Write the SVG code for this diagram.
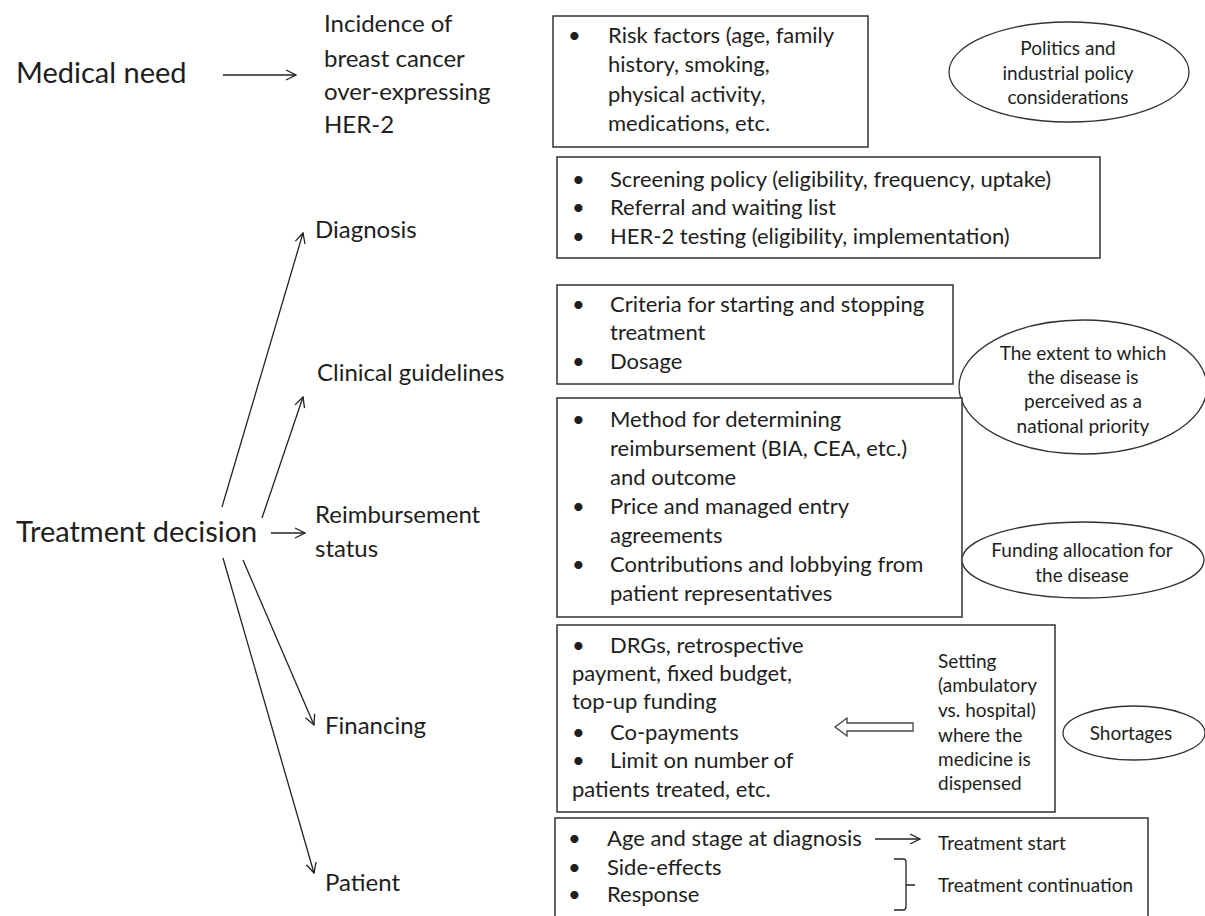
<svg xmlns="http://www.w3.org/2000/svg" width="1205" height="916" viewBox="0 0 1205 916">
<defs>
<style>
text{font-family:Lato,"Liberation Sans",sans-serif;fill:#1e1e1e}
.big{font-size:29px}
.lab{font-size:24px}
.box{font-size:22px}
.sm{font-size:19px}
.mid{text-anchor:middle}
rect.b{fill:#fff;stroke:#333;stroke-width:1.5}
ellipse{fill:#fff;stroke:#333;stroke-width:1.3}
.con line{stroke:#222;stroke-width:1.3;marker-end:url(#ah)}
</style>
<marker id="ah" viewBox="0 0 12 12" refX="11" refY="6" markerWidth="12" markerHeight="12" markerUnits="userSpaceOnUse" orient="auto">
<path d="M1,1 L11,6 L1,11" fill="none" stroke="#222" stroke-width="1.3"/>
</marker>
</defs>
<rect width="1205" height="916" fill="#fff"/>

<g id="medical-need"><text class="big" x="16" y="83">Medical need</text></g>
<g id="incidence">
<text class="lab" x="324" y="32">Incidence of</text>
<text class="lab" x="324" y="67">breast cancer</text>
<text class="lab" x="324" y="100">over-expressing</text>
<text class="lab" x="324" y="133">HER-2</text>
</g>
<g id="risk-box">
<rect class="b" x="553" y="16" width="315" height="131"/>
<text class="box" x="568" y="43">•</text>
<text class="box" x="608" y="43">Risk factors (age, family</text>
<text class="box" x="608" y="72">history, smoking,</text>
<text class="box" x="608" y="102">physical activity,</text>
<text class="box" x="608" y="131">medications, etc.</text>
</g>
<g id="politics">
<ellipse cx="1069" cy="72" rx="120" ry="50"/>
<text class="sm mid" x="1068" y="55">Politics and</text>
<text class="sm mid" x="1068" y="80">industrial policy</text>
<text class="sm mid" x="1068" y="104">considerations</text>
</g>
<g id="diagnosis-box">
<rect class="b" x="557" y="157" width="543" height="101"/>
<text class="box" x="572" y="187">•</text>
<text class="box" x="610" y="187">Screening policy (eligibility, frequency, uptake)</text>
<text class="box" x="572" y="215">•</text>
<text class="box" x="610" y="215">Referral and waiting list</text>
<text class="box" x="572" y="244">•</text>
<text class="box" x="610" y="244">HER-2 testing (eligibility, implementation)</text>
</g>
<g id="diagnosis"><text class="lab" x="315" y="238">Diagnosis</text></g>
<g id="clinical-guidelines"><text class="lab" x="317" y="381">Clinical guidelines</text></g>
<g id="guidelines-box">
<rect class="b" x="557" y="285" width="396" height="99"/>
<text class="box" x="572" y="312">•</text>
<text class="box" x="610" y="312">Criteria for starting and stopping</text>
<text class="box" x="610" y="340">treatment</text>
<text class="box" x="572" y="369">•</text>
<text class="box" x="610" y="369">Dosage</text>
</g>
<g id="priority">
<ellipse cx="1083" cy="387" rx="124" ry="67"/>
<text class="sm mid" x="1083" y="360">The extent to which</text>
<text class="sm mid" x="1083" y="384">the disease is</text>
<text class="sm mid" x="1083" y="408">perceived as a</text>
<text class="sm mid" x="1083" y="433">national priority</text>
</g>
<g id="reimbursement-box">
<rect class="b" x="557" y="398" width="405" height="219"/>
<text class="box" x="572" y="427">•</text>
<text class="box" x="610" y="427">Method for determining</text>
<text class="box" x="610" y="456">reimbursement (BIA, CEA, etc.)</text>
<text class="box" x="610" y="485">and outcome</text>
<text class="box" x="572" y="514">•</text>
<text class="box" x="610" y="514">Price and managed entry</text>
<text class="box" x="610" y="543">agreements</text>
<text class="box" x="572" y="572">•</text>
<text class="box" x="610" y="572">Contributions and lobbying from</text>
<text class="box" x="610" y="601">patient representatives</text>
</g>
<g id="treatment-decision"><text class="big" x="16" y="542">Treatment decision</text></g>
<g id="reimbursement-status">
<text class="lab" x="315" y="523">Reimbursement</text>
<text class="lab" x="315" y="557">status</text>
</g>
<g id="funding">
<ellipse cx="1083" cy="560" rx="121" ry="38"/>
<text class="sm mid" x="1082" y="557">Funding allocation for</text>
<text class="sm mid" x="1082" y="582">the disease</text>
</g>
<g id="financing-box">
<rect class="b" x="557" y="625" width="498" height="187"/>
<text class="box" x="572" y="653">•</text>
<text class="box" x="610" y="653">DRGs, retrospective</text>
<text class="box" x="572" y="681">payment, fixed budget,</text>
<text class="box" x="572" y="709">top-up funding</text>
<text class="box" x="572" y="740">•</text>
<text class="box" x="610" y="740">Co-payments</text>
<text class="box" x="572" y="768">•</text>
<text class="box" x="610" y="768">Limit on number of</text>
<text class="box" x="572" y="797">patients treated, etc.</text>
<text class="sm" x="938" y="668">Setting</text>
<text class="sm" x="938" y="692">(ambulatory</text>
<text class="sm" x="938" y="717">vs. hospital)</text>
<text class="sm" x="938" y="742">where the</text>
<text class="sm" x="938" y="766">medicine is</text>
<text class="sm" x="938" y="790">dispensed</text>
</g>
<g id="shortages">
<ellipse cx="1134" cy="733" rx="71" ry="27"/>
<text class="sm mid" x="1131" y="740">Shortages</text>
</g>
<g id="financing"><text class="lab" x="325" y="734">Financing</text></g>
<g id="patient"><text class="lab" x="325" y="891">Patient</text></g>
<g id="patient-box">
<rect class="b" x="555" y="818" width="593" height="110"/>
<text class="box" x="568" y="846">•</text>
<text class="box" x="607" y="846">Age and stage at diagnosis</text>
<text class="box" x="568" y="875">•</text>
<text class="box" x="607" y="875">Side-effects</text>
<text class="box" x="568" y="902">•</text>
<text class="box" x="607" y="902">Response</text>
<text class="sm" x="938" y="850">Treatment start</text>
<text class="sm" x="938" y="892">Treatment continuation</text>
</g>

<g id="connectors" class="con">
<line x1="223" y1="75" x2="296" y2="75"/>
<line x1="222" y1="507" x2="303" y2="233"/>
<line x1="262" y1="518" x2="303" y2="397"/>
<line x1="271" y1="533" x2="305" y2="533"/>
<line x1="243" y1="560" x2="314" y2="725"/>
<line x1="223" y1="558" x2="314" y2="873"/>
<line x1="875" y1="839" x2="920" y2="839"/>
<path d="M894,859 L903,859 Q906,859 906,862 L906,907 Q906,910 903,910 L894,910 M906,885 L915,885" fill="none" stroke="#222" stroke-width="1.3"/>
<polygon points="835,727 847,718 847,723 913,723 913,731 847,731 847,736" fill="#fff" stroke="#444" stroke-width="1.3"/>
</g>
</svg>
